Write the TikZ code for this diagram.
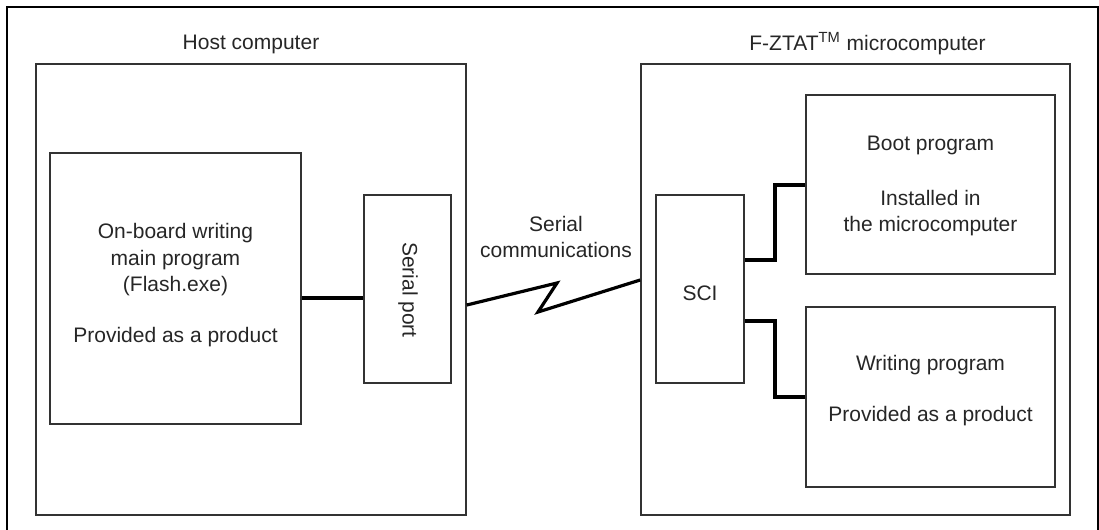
\documentclass[tikz,border=0pt]{standalone}
\usepackage{fontspec}
\setmainfont{Liberation Sans}
\begin{document}
\begin{tikzpicture}[x=0.5pt,y=-0.5pt,
  box/.style={draw=black!80,line width=0.8pt,inner sep=0pt,fill=none},
  txt/.style={text=black!85,align=center,inner sep=0pt,
    font=\fontsize{10.5pt}{13.25pt}\selectfont},
  link/.style={line width=1.6pt,black,line join=miter},
  frame/.style={line width=1pt,black}]
\useasboundingbox (0,0) rectangle (1099,530);

% outer frame (open at the bottom)
\draw[frame] (7,530) -- (7,7) -- (1098,7) -- (1098,530);

% two main blocks
\node[box,minimum width=215pt,minimum height=225.5pt] (host) at (251,289.5) {};
\node[box,minimum width=214.5pt,minimum height=225.5pt] (fzt) at (855.5,289.5) {};
\node[txt] (hostT) at (251,44) {Host computer};
\node[txt,anchor=west] (fztT) at (749,44) {F-ZTAT\textsuperscript{TM} microcomputer};

% host side
\node[box,minimum width=125.5pt,minimum height=135.5pt] (main) at (175.5,288.5) {};
\node[txt] (mainT) at (175.5,285) {On-board writing\\main program\\(Flash.exe)\\[12pt]Provided as a product};
\node[box,minimum width=43.5pt,minimum height=94pt] (sport) at (407.5,289) {};
\node[txt,rotate=-90] (sportT) at (408,290) {Serial port};

% microcomputer side
\node[box,minimum width=44pt,minimum height=94pt] (sci) at (700,289) {};
\node[txt] (sciT) at (700,293) {SCI};
\node[box,minimum width=124.5pt,minimum height=89.5pt] (boot) at (930.5,184.5) {};
\node[txt] (bootT) at (930.5,186) {Boot program\\[14pt]Installed in\\the microcomputer};
\node[box,minimum width=124.5pt,minimum height=90pt] (write) at (930.5,397) {};
\node[txt] (writeT) at (930.5,390.5) {Writing program\\[12pt]Provided as a product};

% serial link label
\node[txt] (serT) at (556,237) {Serial\\communications};

% helper coordinates for connector heights
\coordinate (yA) at (0,298);
\coordinate (yB) at (0,305);
\coordinate (yC) at (0,280);
\coordinate (zA) at (557,283);
\coordinate (zB) at (538,312);
\coordinate (kA) at (775,260);
\coordinate (kB) at (775,185);
\coordinate (kC) at (775,321);
\coordinate (kD) at (775,397);

% connectors
\draw[link] (main.east |- yA) -- (sport.west |- yA);
\draw[link] (host.east |- yB) -- (zA) -- (zB) -- (fzt.west |- yC);
\draw[link] (sci.east |- kA) -- (kA) -- (kB) -- (boot.west |- kB);
\draw[link] (sci.east |- kC) -- (kC) -- (kD) -- (write.west |- kD);
\end{tikzpicture}
\end{document}
